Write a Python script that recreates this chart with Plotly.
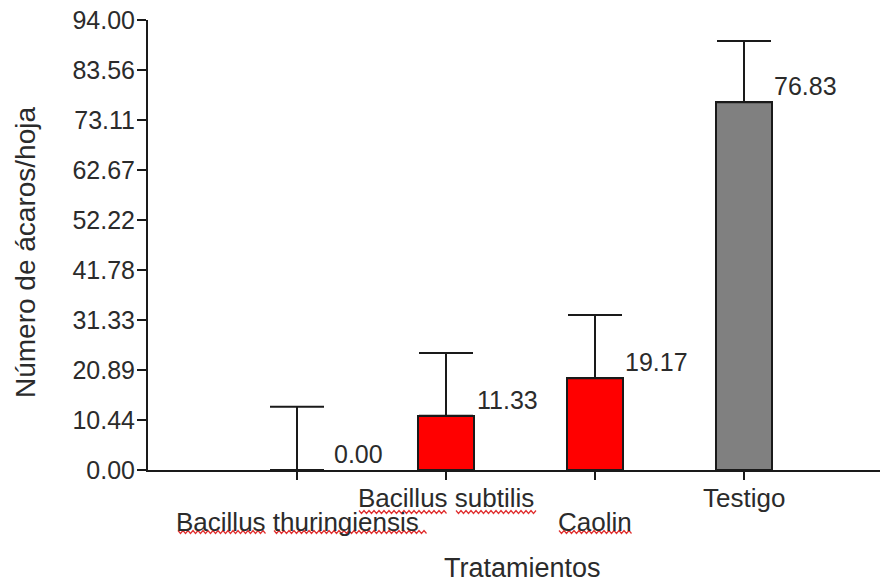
import plotly.graph_objects as go

# ---- data ----
categories = ["Bacillus thuringiensis", "Bacillus subtilis", "Caolin", "Testigo"]
means = [0.00, 11.33, 19.17, 76.83]
errors_up = [13.2, 13.1, 13.2, 12.8]
bar_colors = ["#FF0000", "#FF0000", "#FF0000", "#808080"]
value_labels = ["0.00", "11.33", "19.17", "76.83"]
ytick_vals = [0, 94/9, 2*94/9, 3*94/9, 4*94/9, 5*94/9, 6*94/9, 7*94/9, 8*94/9, 94]
ytick_text = ["0.00", "10.44", "20.89", "31.33", "41.78", "52.22", "62.67", "73.11", "83.56", "94.00"]
label_lower = [True, False, True, False]  # staggered category labels

x_pos = [1, 2, 3, 4]

# ---- layout constants ----
W, H = 880, 585
ML, MR, MT, MB = 148, 0, 20, 115
PW, PH = W - ML - MR, H - MT - MB
FONT = "Liberation Sans, Arial, sans-serif"
TXT = "#2b2b2b"

fig = go.Figure()
fig.add_trace(go.Bar(
    x=x_pos, y=means, width=0.37,
    marker=dict(color=bar_colors,
                line=dict(color="#1a1a1a", width=[0 if v == 0 else 2 for v in means])),
    error_y=dict(type="data", array=errors_up, arrayminus=[0]*4, symmetric=False,
                 color="#1a1a1a", thickness=2, width=27),
    showlegend=False, hoverinfo="skip",
))

annotations = []
# value labels
for xi, v, t in zip(x_pos, means, value_labels):
    annotations.append(dict(x=xi, y=v, xref="x", yref="y", text=t, showarrow=False,
                            xshift=61, yshift=16, xanchor="center", yanchor="middle",
                            font=dict(family=FONT, size=25, color=TXT)))
# category labels
for xi, c, low in zip(x_pos, categories, label_lower):
    annotations.append(dict(x=xi, y=0, xref="x", yref="y", text=c, showarrow=False,
                            yshift=-52 if low else -28, xanchor="center", yanchor="middle",
                            font=dict(family=FONT, size=26, color=TXT)))
# axis titles
annotations.append(dict(x=(522 - ML) / PW, y=(470 - 568) / PH, xref="paper", yref="paper",
                        text="Tratamientos", showarrow=False, xanchor="center", yanchor="middle",
                        font=dict(family=FONT, size=27, color=TXT)))
annotations.append(dict(x=(25 - ML) / PW, y=(470 - 253) / PH, xref="paper", yref="paper",
                        text="Número de ácaros/hoja", showarrow=False, textangle=-90,
                        xanchor="center", yanchor="middle",
                        font=dict(family=FONT, size=28, color=TXT)))

# spell-check style wavy underlines (decoration)
def wavy(x0, x1, py):
    pts = []
    px = x0
    up = True
    while px <= x1:
        pts.append(((px - ML) / PW, (470 - (py - (1.5 if up else -1.5))) / PH))
        px += 2.5
        up = not up
    d = "M " + " L ".join(f"{a:.5f},{b:.5f}" for a, b in pts)
    return dict(type="path", path=d, xref="paper", yref="paper",
                line=dict(color="#e03030", width=1.2))

shapes = [
    wavy(178, 267, 532), wavy(274, 427, 532),
    wavy(359, 448, 512), wavy(456, 537, 512),
    wavy(559, 632, 532),
]

fig.update_layout(
    width=W, height=H,
    margin=dict(l=ML, r=MR, t=MT, b=MB),
    paper_bgcolor="white", plot_bgcolor="white",
    font=dict(family=FONT, color=TXT),
    xaxis=dict(range=[0, PW / 149], showgrid=False, zeroline=False,
               showline=True, linecolor="#1a1a1a", linewidth=2,
               tickmode="array", tickvals=x_pos, ticktext=["", "", "", ""],
               ticks="outside", ticklen=8, tickwidth=2, tickcolor="#1a1a1a"),
    yaxis=dict(range=[0, 94], showgrid=False, zeroline=False,
               showline=True, linecolor="#1a1a1a", linewidth=2,
               tickmode="array", tickvals=ytick_vals, ticktext=ytick_text,
               ticks="outside", ticklen=9, tickwidth=1.5, tickcolor="#1a1a1a",
               ticklabelstandoff=-3,
               tickfont=dict(family=FONT, size=25, color=TXT)),
    annotations=annotations,
    shapes=shapes,
    bargap=0,
)

fig.write_html("out.html")
